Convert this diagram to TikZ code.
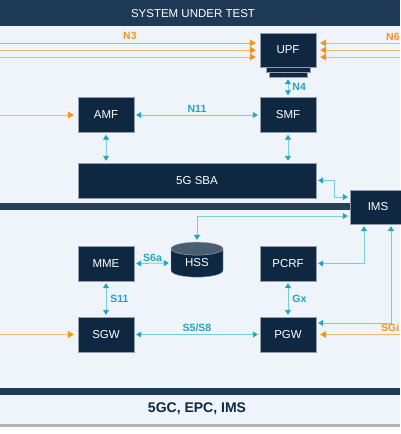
\documentclass[tikz,border=0pt]{standalone}
\usepackage{fontspec}
\setmainfont{Liberation Sans}
\usepackage{tikz}
\usetikzlibrary{arrows.meta}
\usetikzlibrary{positioning, quotes, shapes.geometric}

\definecolor{navy}{HTML}{0E2842}
\definecolor{bannerc}{HTML}{1F3A56}
\definecolor{panelc}{HTML}{EEF4F9}
\definecolor{barc}{HTML}{283F55}
\definecolor{tealc}{HTML}{1EA5C0}
\definecolor{tealln}{HTML}{7ACBDD}
\definecolor{orangec}{HTML}{F7941D}
\definecolor{orangeln}{HTML}{F7B86E}

\begin{document}
\begin{tikzpicture}[x=1pt, y=-1pt,
		nf/.style = {fill=navy, draw=navy!45!white, line width=0.4pt, minimum width=56pt, minimum height=35pt, inner sep=0pt, text=white, font=\fontsize{11.5}{12}\selectfont},
		tl/.style = {draw=tealln, line width=0.9pt, shorten <=2pt, shorten >=2pt, {Triangle[length=5pt,width=6pt,color=tealc]}-{Triangle[length=5pt,width=6pt,color=tealc]}},
		ol/.style = {draw=orangeln, line width=1pt, shorten >=4pt, -{Triangle[length=6pt,width=7pt,color=orangec]}},
		every edge quotes/.style = {auto, font=\bfseries\fontsize{10.5}{11}\selectfont, text=tealc, inner sep=2.5pt}]
			\useasboundingbox (0,0) rectangle (400,434);
			% panel and bars
			\fill[white] (0,0) rectangle (400,434);
			\fill[panelc] (0,0) rectangle (400,425);
			\fill[black!30] (0,424) rectangle (400,427);
			\fill[bannerc] (0,0) rectangle (400,26);
			\fill[barc] (0,203) rectangle (350,210);
			\fill[bannerc] (0,388) rectangle (400,395);
			\node[text=white, font=\fontsize{11.5}{12}\selectfont] (title) at (193,14) {SYSTEM UNDER TEST};
			\node[text=navy, font=\bfseries\fontsize{14}{15}\selectfont] (foot) at (197,409) {5GC, EPC, IMS};
			
			\begin{scope}[every node/.style={nf}]
				\node (UPF) at (288,50) [minimum height=34pt] {UPF};
				\node (AMF) at (106,115) {AMF};
				\node (SMF) at (288,115) {SMF};
				\node (SBA) at (197,180.5) [minimum width=238pt] {5G SBA};
				\node (IMS) at (378,207) [minimum height=34pt] {IMS};
				\node (MME) at (106,263.5) {MME};
				\node (PCRF) at (288,263.5) {PCRF};
				\node (SGW) at (106,334.5) {SGW};
				\node (PGW) at (288,334.5) {PGW};
				\node (UPFa) at (288,69.5) [minimum width=44pt, minimum height=5pt] {};
				\node (UPFb) at (288,74.5) [minimum width=38pt, minimum height=5pt] {};
			\end{scope}
			\node[cylinder, shape border rotate=90, aspect=0.55, minimum width=52pt, minimum height=35pt, inner sep=0pt,
				cylinder uses custom fill, cylinder body fill=navy, cylinder end fill=navy!75!white,
				draw=navy!45!white, text=white, font=\fontsize{11.5}{12}\selectfont] (HSS) at (197,263) {HSS};
			
			% free ends at the panel edges
			\coordinate (n3a) at (0,43);
			\coordinate (n3b) at (0,50);
			\coordinate (n3c) at (0,57);
			\coordinate (n6a) at (400,43);
			\coordinate (n6b) at (400,50);
			\coordinate (n6c) at (400,57);
			\coordinate (n2) at (0,115);
			\coordinate (s1u) at (0,334.5);
			\coordinate (sgi) at (400,334.5);
			
			\draw (n3a) edge[ol, draw=orangec!85!white, "N3"{text=orangec}] (n3a -| UPF.west)
			(n3b) edge[ol] (n3b -| UPF.west)
			(n3c) edge[ol] (n3c -| UPF.west)
			(n6a) edge[ol] (n6a -| UPF.east)
			(n6b) edge[ol] (n6b -| UPF.east)
			(n6c) edge[ol] (n6c -| UPF.east)
			(n2) edge[ol] (AMF.west)
			(s1u) edge[ol] (SGW.west)
			(sgi) edge[ol] (PGW.east);
			\node[font=\bfseries\fontsize{10.5}{11}\selectfont, text=orangec, anchor=west, inner sep=0pt] (n6) at (386,37) {N6};
			\node[font=\bfseries\fontsize{10.5}{11}\selectfont, text=orangec, anchor=east, inner sep=0pt] (sgil) at (399.5,328) {SGi};
			
			\draw (UPFb.south) edge[tl, "N4"{inner sep=4pt}] (SMF.north)
			(AMF.east) edge[tl, "N11"] (SMF.west)
			(AMF.south) edge[tl] (AMF.south |- SBA.north)
			(SMF.south) edge[tl] (SMF.south |- SBA.north)
			(MME.east) edge[tl, "S6a"{inner sep=1pt}] (HSS.west)
			(MME.south) edge[tl, "S11"{inner sep=4pt}] (SGW.north)
			(PCRF.south) edge[tl, "Gx"{inner sep=4pt}] (PGW.north)
			(SGW.east) edge[tl, "S5/S8"] (PGW.west);
			
			\draw[tl] (SBA.east) -| ([xshift=-15pt,yshift=10pt]IMS.west) -- ([yshift=10pt]IMS.west);
			\draw[tl] (HSS.north) |- ([yshift=-9pt]IMS.west);
			\draw[tl] (PCRF.east) -| ([xshift=-14pt]IMS.south);
			\draw[tl] ([yshift=11.5pt]PGW.east) -| ([xshift=13pt]IMS.south);
		\end{tikzpicture}
\end{document}
